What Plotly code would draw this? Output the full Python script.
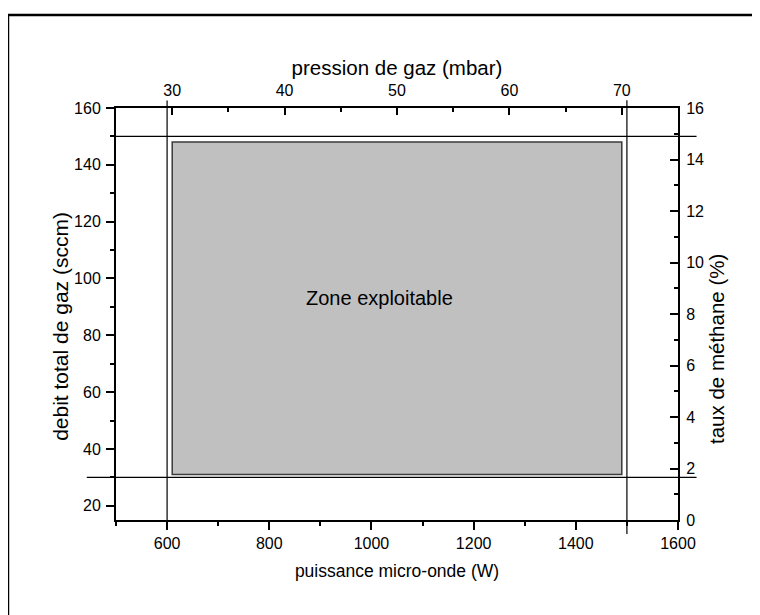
import plotly.graph_objects as go

# ---- data ----
power_range = [500, 1600]          # puissance micro-onde (W)
flow_range = [15, 160]             # debit total de gaz (sccm)
pressure_range = [25, 75]          # pression de gaz (mbar)
methane_range = [0, 16]            # taux de méthane (%)

power_limits = [600, 1500]         # vertical limit lines (W)
flow_limits = [30, 150]            # horizontal limit lines (sccm)
zone_power = [610, 1490]           # exploitable zone, x extent (W)
zone_flow = [31, 148]              # exploitable zone, y extent (sccm)
zone_label = "Zone exploitable"
zone_label_pos = [1015, 93]

FONT = "Liberation Sans, Arial, sans-serif"

fig = go.Figure()
fig.add_trace(go.Scatter(x=power_range, y=flow_range, mode="none",
                         hoverinfo="skip", showlegend=False))
fig.add_trace(go.Scatter(x=pressure_range, y=methane_range, mode="none",
                         xaxis="x2", yaxis="y2", hoverinfo="skip", showlegend=False))

# exploitable zone
fig.add_shape(type="rect", xref="x", yref="y",
              x0=zone_power[0], x1=zone_power[1], y0=zone_flow[0], y1=zone_flow[1],
              fillcolor="#c0c0c0", line=dict(color="#3a3a3a", width=1.5), layer="below")

# limit lines (extend slightly beyond the frame like the original)
vert_ext = [(-0.024, 1.018), (-0.034, 1.019)]
for xv, (a, b) in zip(power_limits, vert_ext):
    fig.add_shape(type="line", xref="x", yref="paper", x0=xv, x1=xv, y0=a, y1=b,
                  line=dict(color="black", width=1.2))
hor_ext = [(-0.052, 1.033), (-0.008, 1.033)]
for yv, (a, b) in zip(flow_limits, hor_ext):
    fig.add_shape(type="line", xref="paper", yref="y", x0=a, x1=b, y0=yv, y1=yv,
                  line=dict(color="black", width=1.2))

# outer frame (top and left edges visible)
fig.add_shape(type="line", xref="paper", yref="paper", x0=-0.1922, x1=1.3,
              y0=1.2257, y1=1.2257, line=dict(color="black", width=2.5))
fig.add_shape(type="line", xref="paper", yref="paper", x0=-0.1922, x1=-0.1922,
              y0=1.2257, y1=-0.3, line=dict(color="black", width=2.5))

fig.add_annotation(x=zone_label_pos[0], y=zone_label_pos[1], xref="x", yref="y",
                   text=zone_label, showarrow=False,
                   font=dict(family=FONT, size=20, color="black"))

# side axis titles
fig.add_annotation(x=-0.098, y=0.471, xref="paper", yref="paper",
                   text="debit total de gaz (sccm)", textangle=-90, showarrow=False,
                   xanchor="center", yanchor="middle",
                   font=dict(family=FONT, size=21, color="black"))
fig.add_annotation(x=1.0676, y=0.415, xref="paper", yref="paper",
                   text="taux de méthane (%)", textangle=-90, showarrow=False,
                   xanchor="center", yanchor="middle",
                   font=dict(family=FONT, size=20.5, color="black"))

tickfont = dict(family=FONT, size=16, color="black")
common = dict(showline=True, linecolor="black", linewidth=2, showgrid=False,
              zeroline=False, tickcolor="black", tickwidth=1.5, tickfont=tickfont)

fig.update_layout(
    width=760, height=615,
    margin=dict(l=108, r=90, t=100, b=103),
    paper_bgcolor="white", plot_bgcolor="white",
    showlegend=False,
    xaxis=dict(range=power_range, ticks="outside", ticklen=8, tick0=600, dtick=200,
               minor=dict(ticks="outside", ticklen=4, dtick=100, tick0=500,
                          tickcolor="black", tickwidth=1.5),
               title=dict(text="puissance micro-onde (W)",
                          font=dict(family=FONT, size=17.5, color="black"), standoff=14),
               **common),
    yaxis=dict(range=flow_range, ticks="outside", ticklen=8, tick0=20, dtick=20,
               ticklabelstandoff=2,
               minor=dict(ticks="outside", ticklen=4, dtick=10, tick0=20,
                          tickcolor="black", tickwidth=1.5),
               **common),
    xaxis2=dict(range=pressure_range, overlaying="x", side="top", anchor="y2",
                ticks="inside", ticklen=7, tick0=30, dtick=10, ticklabelstandoff=4,
                minor=dict(ticks="inside", ticklen=4, dtick=5, tick0=25,
                           tickcolor="black", tickwidth=1.5),
                title=dict(text="pression de gaz (mbar)",
                           font=dict(family=FONT, size=20.5, color="black"), standoff=0),
                **common),
    yaxis2=dict(range=methane_range, overlaying="y", side="right", anchor="x2",
                ticks="inside", ticklen=8, tick0=0, dtick=2, ticklabelstandoff=3,
                minor=dict(ticks="inside", ticklen=4, dtick=1, tick0=0,
                           tickcolor="black", tickwidth=1.5),
                **common),
)

fig.write_html("out.html")
